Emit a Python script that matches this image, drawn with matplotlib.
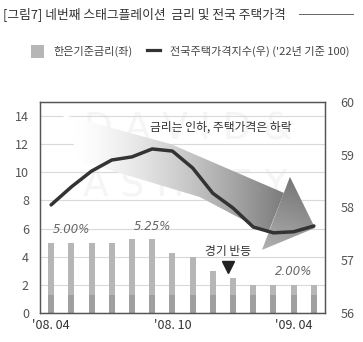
import numpy as np
import matplotlib
matplotlib.use("Agg")
import matplotlib.pyplot as plt
from matplotlib.patches import Polygon, Rectangle
from matplotlib.lines import Line2D

plt.rcParams['font.family'] = ['Noto Sans CJK KR', 'DejaVu Sans']

# ── data ────────────────────────────────────────────────────────────────────
months = np.arange(14)                      # 2008.04 ~ 2009.05, monthly
base_rate = [5.00, 5.00, 5.00, 5.00, 5.25, 5.25, 4.25,
             4.00, 3.00, 2.50, 2.00, 2.00, 2.00, 2.00]
house_idx = [58.05, 58.39, 58.69, 58.90, 58.96, 59.11, 59.07,
             58.75, 58.27, 57.99, 57.63, 57.52, 57.54, 57.65]
tick_pos = [0, 6, 12]
tick_labels = ["'08. 04", "'08. 10", "'09. 04"]
rate_label_pos = [1, 5, 12]
rebound_x = 8.75

BAR_LIGHT = "#b6b6b6"
BAR_DARK = "#9f9f9f"
LINE_C = "#333333"


def gradient_fill(ax, verts, shade, zorder):
    """Fill a polygon (axes coords) with a grey ramp given by shade(fx, fy)."""
    fx, fy = np.meshgrid(np.linspace(0, 1, 300), np.linspace(0, 1, 300))
    g = 1 - np.clip(shade(fx, fy), 0, 1)
    img = np.dstack([g, g, g])
    poly = Polygon(verts, closed=True, transform=ax.transAxes,
                   facecolor="none", edgecolor="none")
    ax.add_patch(poly)
    im = ax.imshow(img, extent=(0, 1, 0, 1), origin="lower",
                   transform=ax.transAxes, aspect="auto", zorder=zorder,
                   interpolation="bilinear")
    im.set_clip_path(poly)


fig = plt.figure(figsize=(3.63, 3.42), dpi=100)
ax = fig.add_axes([40 / 363, 29 / 342, 285 / 363, 211 / 342])
ax2 = ax.twinx()

# watermark
ax.text(0.52, 0.87, "D A V I D &", transform=ax.transAxes, fontsize=27,
        family="DejaVu Sans", color="#f5f5f5", ha="center", va="center", zorder=0.2)
ax.text(0.51, 0.60, "A S H L E Y", transform=ax.transAxes, fontsize=27,
        family="DejaVu Sans", color="#f5f5f5", ha="center", va="center", zorder=0.2)

# big trend arrow
shaft = [(0.08, 0.94), (0.46, 0.80), (0.856, 0.569),
         (0.800, 0.379), (0.56, 0.55), (0.14, 0.72)]
gradient_fill(ax, shaft,
              lambda fx, fy: 0.50 * np.clip((fx - 0.12) / 0.72, 0, 1) ** 1.4,
              zorder=1)
head = [(0.877, 0.645), (0.965, 0.403), (0.779, 0.299)]
gradient_fill(ax, head, lambda fx, fy: 0.30 * fx + 0.58 * fy - 0.10, zorder=1)

# base rate bars (two-tone)
ax.bar(months, base_rate, width=0.3, color=BAR_LIGHT, zorder=2)
ax.bar(months, np.minimum(base_rate, 1.25), width=0.3, color=BAR_DARK, zorder=2)

for i in rate_label_pos:
    ax.text(months[i], base_rate[i] + 0.92, f"{base_rate[i]:.2f}%",
            ha="center", va="center", fontsize=8.5, style="italic",
            color="#666666", family="DejaVu Sans", zorder=4)

ax.text(4.9, 13.2, "금리는 인하, 주택가격은 하락", fontsize=8.5, color="#333333",
        ha="left", va="center", zorder=4)
ax.text(rebound_x, 4.35, "경기 반등", fontsize=8.5, color="#333333",
        ha="center", va="center", zorder=4)
ax.plot([rebound_x], [3.25], marker="v", markersize=8, color="#222222", zorder=4)

ax.set_xlim(-0.55, 13.55)
ax.set_ylim(0, 15)
ax.set_yticks(range(0, 15, 2))
ax.set_xticks(tick_pos)
ax.set_xticklabels(tick_labels)
ax.grid(True, axis="y", color="#d9d9d9", lw=0.8)
ax.set_axisbelow(True)
ax.tick_params(axis="y", length=0, pad=8, labelsize=9, labelcolor="#555555")
ax.tick_params(axis="x", length=0, pad=4, labelsize=9, labelcolor="#333333")

# house price index on right axis
ax2.plot(months, house_idx, color=LINE_C, lw=2.5, solid_capstyle="round",
         solid_joinstyle="round", zorder=5)
ax2.set_ylim(56, 60)
ax2.set_yticks([56, 57, 58, 59, 60])
ax2.tick_params(axis="y", length=0, pad=11, labelsize=9, labelcolor="#555555")

for a in (ax, ax2):
    for s in a.spines.values():
        s.set_color("#555555")
        s.set_linewidth(0.9)

# title and rule
fig.text(3 / 363, 1 - 14 / 342, "[그림7] 네번째 스태그플레이션  금리 및 전국 주택가격",
         fontsize=9.2, color="#333333", ha="left", va="center")
fig.add_artist(Line2D([299 / 363, 353 / 363], [1 - 14 / 342, 1 - 14 / 342],
                      color="#666666", lw=0.7))

# legend
fig.add_artist(Rectangle((31 / 363, 1 - 58 / 342), 13 / 363, 13 / 342,
                         facecolor=BAR_LIGHT, edgecolor="none"))
fig.text(53 / 363, 1 - 51 / 342, "한은기준금리(좌)", fontsize=8, color="#444444",
         ha="left", va="center")
fig.add_artist(Line2D([147 / 363, 160 / 363], [1 - 50 / 342, 1 - 50 / 342],
                      color=LINE_C, lw=2.3))
fig.text(170 / 363, 1 - 51 / 342, "전국주택가격지수(우) ('22년 기준 100)", fontsize=8,
         color="#444444", ha="left", va="center")

fig.savefig("out.png", dpi=100)
